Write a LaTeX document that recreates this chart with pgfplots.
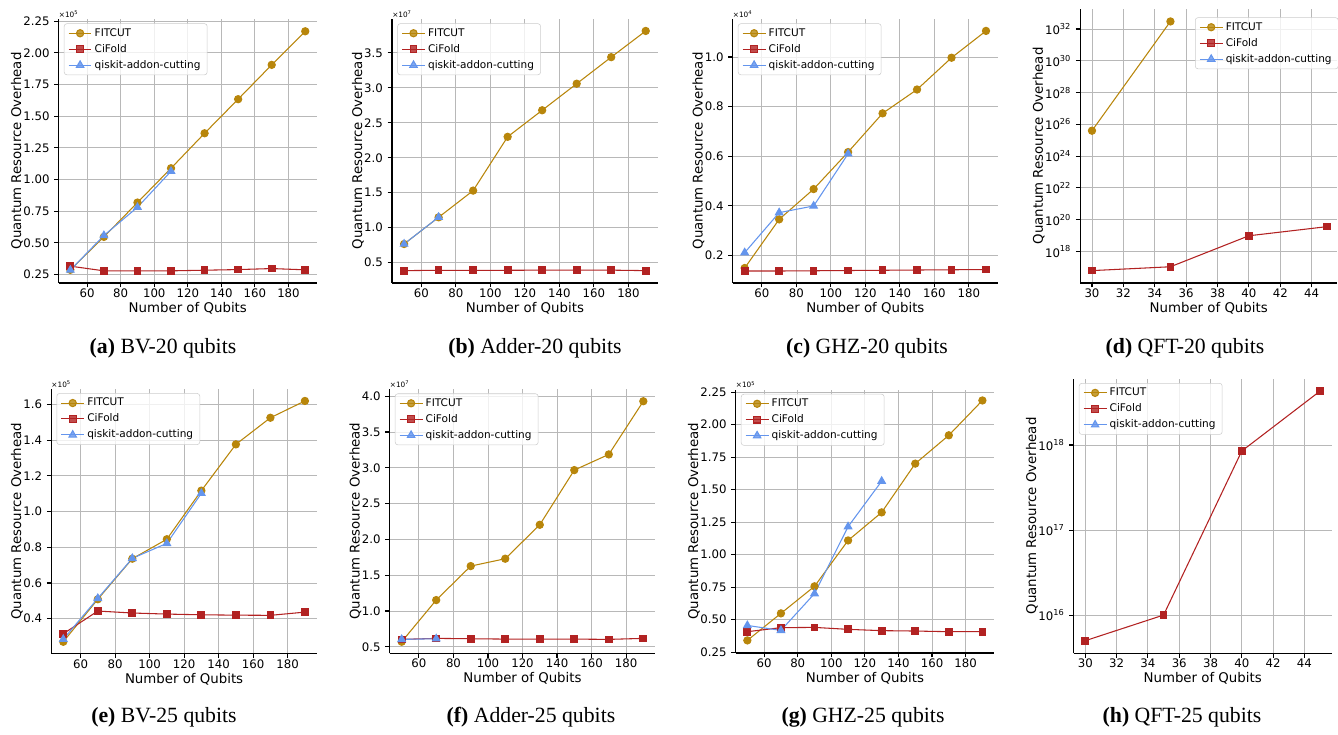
\documentclass[border=0pt]{standalone}
\usepackage{fontspec}
\setmainfont{DejaVu Sans}
\newfontfamily\capfont{Liberation Serif}
\usepackage{pgfplots}
\pgfplotsset{compat=1.18}

\definecolor{fitc}{RGB}{184,134,11}
\definecolor{cifc}{RGB}{178,34,34}
\definecolor{qisc}{RGB}{100,149,237}

\pgfplotsset{
  panel/.style={
    scale only axis, clip=false,
    axis x line*=bottom, axis y line*=left,
    axis line style={line width=0.8pt, -},
    tick align=outside, major tick length=3.3pt,
    tick style={line width=0.8pt, black},
    grid=major, grid style={line width=0.7pt, black!28},
    tick label style={font=\fontsize{8.8}{10}\selectfont},
    label style={font=\fontsize{10}{12}\selectfont},
    xticklabel shift=-2.5pt, xlabel shift=-3.5pt, ylabel shift=-6.5pt,
    xlabel={Number of Qubits},
    ylabel={Quantum Resource Overhead},
    /pgf/number format/assume math mode=true,
    legend cell align=left,
    legend style={at={(0,1)}, anchor=north west, xshift=4pt, yshift=-3.3pt,
      draw=black!20, rounded corners=2pt, fill=white, fill opacity=0.8, text opacity=1,
      font=\fontsize{7.9}{9.2}\selectfont, inner xsep=3pt, inner ysep=1.5pt, row sep=0.5pt},
  },
  lin/.style={xmin=43, xmax=197, xtick={60,80,...,180}},
  sFIT/.style={color=fitc, line width=0.8pt, mark=*, mark size=2.7pt, mark options={solid, fill=fitc}},
  sCIF/.style={color=cifc, line width=0.8pt, mark=square*, mark size=2.5pt, mark options={solid, fill=cifc}},
  sQIS/.style={color=qisc, line width=0.8pt, mark=triangle*, mark size=3.2pt, mark options={solid, fill=qisc}},
  dec2/.style={yticklabel style={/pgf/number format/.cd, fixed, fixed zerofill, precision=2}},
  dec1/.style={yticklabel style={/pgf/number format/.cd, fixed, fixed zerofill, precision=1}},
}
\newcommand{\mult}[1]{\node[anchor=south west, inner sep=0pt, yshift=1pt, font=\fontsize{5.5}{6}\selectfont] at (rel axis cs:0,1) {×10\textsuperscript{#1}};}
\newcommand{\subcap}[2]{\node[anchor=base, font=\capfont\fontsize{16.3}{19}\selectfont] at #1 {#2};}

\begin{document}
\begin{tikzpicture}
\path[use as bounding box] (0,0) rectangle (1003.5pt,-551.25pt);

% (a) BV-20
\begin{axis}[panel, lin, dec2, at={(43.95pt,-212.25pt)}, anchor=south west,
  width=193.8pt, height=198pt, ymin=0.183, ymax=2.267,
  ytick={0.25,0.5,0.75,1,1.25,1.5,1.75,2,2.25}]
\addplot[sFIT] coordinates {(50,0.287)(70,0.547)(90,0.818)(110,1.089)(130,1.365)(150,1.634)(170,1.905)(190,2.17)};
\addlegendentry{FITCUT}
\addplot[sCIF] coordinates {(50,0.316)(70,0.279)(90,0.279)(110,0.279)(130,0.284)(150,0.289)(170,0.297)(190,0.287)};
\addlegendentry{CiFold}
\addplot[sQIS] coordinates {(50,0.285)(70,0.558)(90,0.781)(110,1.065)};
\addlegendentry{qiskit-addon-cutting}
\mult{5}
\end{axis}

% (b) Adder-20
\begin{axis}[panel, lin, dec1, at={(294pt,-212.25pt)}, anchor=south west,
  width=199.35pt, height=198pt, ymin=0.208, ymax=3.986,
  ytick={0.5,1,1.5,2,2.5,3,3.5}]
\addplot[sFIT] coordinates {(50,0.766)(70,1.148)(90,1.53)(110,2.30)(130,2.68)(150,3.06)(170,3.44)(190,3.815)};
\addlegendentry{FITCUT}
\addplot[sCIF] coordinates {(50,0.385)(70,0.39)(90,0.39)(110,0.39)(130,0.392)(150,0.392)(170,0.392)(190,0.385)};
\addlegendentry{CiFold}
\addplot[sQIS] coordinates {(50,0.766)(70,1.15)};
\addlegendentry{qiskit-addon-cutting}
\mult{7}
\end{axis}

% (c) GHZ-20
\begin{axis}[panel, lin, dec1, at={(549.45pt,-212.25pt)}, anchor=south west,
  width=199.1pt, height=198pt, ymin=0.0897, ymax=1.153,
  ytick={0.2,0.4,0.6,0.8,1.0}]
\addplot[sFIT] coordinates {(50,0.150)(70,0.346)(90,0.468)(110,0.617)(130,0.773)(150,0.869)(170,0.997)(190,1.105)};
\addlegendentry{FITCUT}
\addplot[sCIF] coordinates {(50,0.138)(70,0.138)(90,0.139)(110,0.140)(130,0.141)(150,0.142)(170,0.143)(190,0.144)};
\addlegendentry{CiFold}
\addplot[sQIS] coordinates {(50,0.212)(70,0.373)(90,0.400)(110,0.610)};
\addlegendentry{qiskit-addon-cutting}
\mult{4}
\end{axis}

% (d) QFT-20
\begin{axis}[panel, ymode=log, yminorticks=false, at={(810.15pt,-212.25pt)}, anchor=south west,
  width=192.75pt, height=205.5pt, xmin=29.25, xmax=45.63, xtick={30,32,...,44},
  ymin=1.047e16, ymax=1.82e33,
  ytick={1e18,1e20,1e22,1e24,1e26,1e28,1e30,1e32},
  yticklabels={10\textsuperscript{18},10\textsuperscript{20},10\textsuperscript{22},10\textsuperscript{24},10\textsuperscript{26},10\textsuperscript{28},10\textsuperscript{30},10\textsuperscript{32}},
  legend style={at={(1,1)}, anchor=north east, xshift=-3pt, yshift=-3pt}]
\addplot[sFIT] coordinates {(30,4e25)(35,3e32)};
\addlegendentry{FITCUT}
\addplot[sCIF] coordinates {(30,6.3e16)(35,1.1e17)(40,9.8e18)(45,3.7e19)};
\addlegendentry{CiFold}
\addlegendimage{sQIS}
\addlegendentry{qiskit-addon-cutting}
\end{axis}

% (e) BV-25
\begin{axis}[panel, lin, dec1, at={(38.4pt,-490.3pt)}, anchor=south west,
  width=199.35pt, height=198.7pt, ymin=0.204, ymax=1.687,
  ytick={0.4,0.6,0.8,1.0,1.2,1.4,1.6}]
\addplot[sFIT] coordinates {(50,0.271)(70,0.509)(90,0.736)(110,0.845)(130,1.117)(150,1.376)(170,1.525)(190,1.619)};
\addlegendentry{FITCUT}
\addplot[sCIF] coordinates {(50,0.316)(70,0.443)(90,0.432)(110,0.426)(130,0.422)(150,0.420)(170,0.419)(190,0.437)};
\addlegendentry{CiFold}
\addplot[sQIS] coordinates {(50,0.285)(70,0.514)(90,0.738)(110,0.822)(130,1.102)};
\addlegendentry{qiskit-addon-cutting}
\mult{5}
\end{axis}

% (f) Adder-25
\begin{axis}[panel, lin, dec1, at={(292.2pt,-490pt)}, anchor=south west,
  width=199.35pt, height=198.2pt, ymin=0.408, ymax=4.10,
  ytick={0.5,1,1.5,2,2.5,3,3.5,4}]
\addplot[sFIT] coordinates {(50,0.57)(70,1.152)(90,1.627)(110,1.73)(130,2.204)(150,2.968)(170,3.187)(190,3.93)};
\addlegendentry{FITCUT}
\addplot[sCIF] coordinates {(50,0.603)(70,0.617)(90,0.612)(110,0.607)(130,0.607)(150,0.607)(170,0.603)(190,0.617)};
\addlegendentry{CiFold}
\addplot[sQIS] coordinates {(50,0.603)(70,0.612)};
\addlegendentry{qiskit-addon-cutting}
\mult{7}
\end{axis}

% (g) GHZ-25
\begin{axis}[panel, lin, dec2, at={(551.7pt,-489.75pt)}, anchor=south west,
  width=193.9pt, height=197.6pt, ymin=0.243, ymax=2.27,
  ytick={0.25,0.5,0.75,1,1.25,1.5,1.75,2,2.25}]
\addplot[sFIT] coordinates {(50,0.34)(70,0.548)(90,0.756)(110,1.109)(130,1.325)(150,1.70)(170,1.918)(190,2.186)};
\addlegendentry{FITCUT}
\addplot[sCIF] coordinates {(50,0.407)(70,0.438)(90,0.44)(110,0.425)(130,0.415)(150,0.412)(170,0.407)(190,0.407)};
\addlegendentry{CiFold}
\addplot[sQIS] coordinates {(50,0.455)(70,0.417)(90,0.70)(110,1.215)(130,1.565)};
\addlegendentry{qiskit-addon-cutting}
\mult{5}
\end{axis}

% (h) QFT-25
\begin{axis}[panel, ymode=log, yminorticks=false, at={(805.2pt,-490pt)}, anchor=south west,
  width=193.6pt, height=206pt, xmin=29.25, xmax=45.75, xtick={30,32,...,44},
  ymin=3.55e15, ymax=6.03e18,
  ytick={1e16,1e17,1e18},
  yticklabels={10\textsuperscript{16},10\textsuperscript{17},10\textsuperscript{18}}]
\addlegendimage{sFIT}
\addlegendentry{FITCUT}
\addplot[sCIF] coordinates {(30,5.0e15)(35,1e16)(40,8.5e17)(45,4.3e18)};
\addlegendentry{CiFold}
\addlegendimage{sQIS}
\addlegendentry{qiskit-addon-cutting}
\end{axis}

\subcap{(122.25pt,-264.75pt)}{\textbf{(a)} BV-20 qubits}
\subcap{(401.25pt,-264.75pt)}{\textbf{(b)} Adder-20 qubits}
\subcap{(650.25pt,-264.75pt)}{\textbf{(c)} GHZ-20 qubits}
\subcap{(888.75pt,-264.75pt)}{\textbf{(d)} QFT-20 qubits}
\subcap{(123pt,-541.5pt)}{\textbf{(e)} BV-25 qubits}
\subcap{(398.25pt,-541.5pt)}{\textbf{(f)} Adder-25 qubits}
\subcap{(647.25pt,-541.5pt)}{\textbf{(g)} GHZ-25 qubits}
\subcap{(886.5pt,-541.5pt)}{\textbf{(h)} QFT-25 qubits}
\end{tikzpicture}
\end{document}
